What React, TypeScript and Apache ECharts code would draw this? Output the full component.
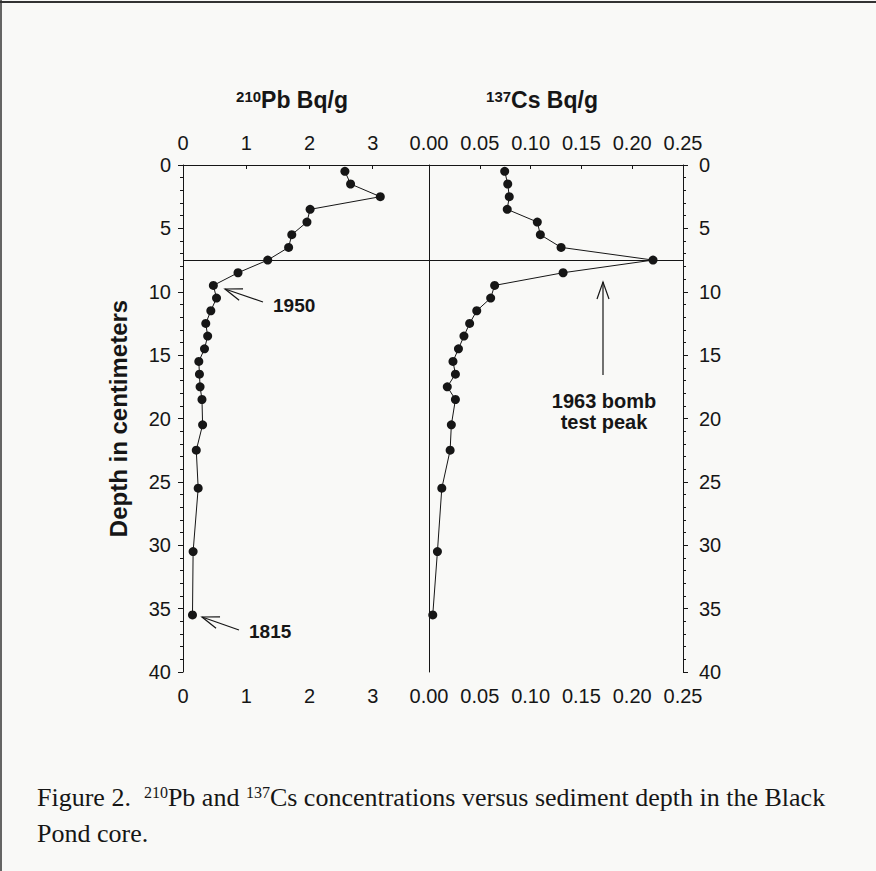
import React, { useEffect, useRef } from "react";
import * as echarts from "echarts";

// ---- data ----
const depthCm = [0.5, 1.5, 2.5, 3.5, 4.5, 5.5, 6.5, 7.5, 8.5, 9.5, 10.5, 11.5, 12.5, 13.5, 14.5, 15.5, 16.5, 17.5, 18.5, 20.5, 22.5, 25.5, 30.5, 35.5];
const pb210 = [2.56, 2.65, 3.12, 2.01, 1.96, 1.72, 1.67, 1.34, 0.87, 0.48, 0.53, 0.44, 0.36, 0.39, 0.34, 0.25, 0.26, 0.27, 0.3, 0.31, 0.21, 0.24, 0.16, 0.15];
const cs137 = [0.0745, 0.0775, 0.079, 0.077, 0.1066, 0.1096, 0.13, 0.2205, 0.132, 0.0646, 0.0607, 0.047, 0.04, 0.0344, 0.029, 0.0236, 0.026, 0.018, 0.026, 0.022, 0.0208, 0.0126, 0.0083, 0.0037];
const peakDepth = 7.5;
const pbTicks = [0, 1, 2, 3];
const csTicks = ["0.00", "0.05", "0.10", "0.15", "0.20", "0.25"];
const depthTicks = [0, 5, 10, 15, 20, 25, 30, 35, 40];

const INK = "#161616";
const SANS = "'Liberation Sans', Arial, sans-serif";
const SERIF = "'Liberation Serif', 'DejaVu Serif', serif";

function arrow(tail: number[], tip: number[]) {
  const dx = tail[0] - tip[0];
  const dy = tail[1] - tip[1];
  const len = Math.hypot(dx, dy);
  const ux = dx / len, uy = dy / len;
  const px = -uy, py = ux;
  const L = 17, W = 6;
  const w1 = [tip[0] + L * ux + W * px, tip[1] + L * uy + W * py];
  const w2 = [tip[0] + L * ux - W * px, tip[1] + L * uy - W * py];
  return [
    { type: "line", shape: { x1: tail[0], y1: tail[1], x2: tip[0], y2: tip[1] }, style: { stroke: INK, lineWidth: 1.2 } },
    { type: "polyline", shape: { points: [w1, tip, w2] }, style: { stroke: INK, lineWidth: 1.2, fill: null } },
  ];
}

export default function App() {
  const ref = useRef<HTMLDivElement>(null);
  useEffect(() => {
    if (!ref.current) return;
    const chart = echarts.init(ref.current, null, { renderer: "svg" });
    const gridTop = 165, gridH = 507;
    const pbLeft = 183, pbW = 246, csLeft = 429, csW = 254;

    const axisLineStyle = { lineStyle: { color: INK, width: 1 } };
    const labelStyle = { color: INK, fontSize: 20, fontFamily: SANS };

    const xBase = (grid: number, pos: "top" | "bottom", max: number, interval: number, fmt: (v: number) => string) => ({
      type: "value",
      gridIndex: grid,
      position: pos,
      min: 0,
      max,
      interval,
      axisLine: { show: true, ...axisLineStyle },
      axisTick: { show: true, length: 4, inside: pos === "top", lineStyle: { color: INK } },
      splitLine: { show: false },
      axisLabel: { ...labelStyle, margin: pos === "top" ? 12 : 14, formatter: fmt, showMaxLabel: true },
    });

    const pbFmt = (v: number) => {
      const r = Math.round(v);
      return Math.abs(v - r) < 1e-6 && pbTicks.includes(r) ? String(r) : "";
    };
    const csFmt = (v: number) => {
      const s = v.toFixed(2);
      return csTicks.includes(s) ? s : "";
    };
    const depthFmt = (v: number) => (depthTicks.includes(Math.round(v)) ? String(Math.round(v)) : "");

    const yBase = (grid: number, pos: "left" | "right", labels: boolean) => ({
      type: "value",
      gridIndex: grid,
      position: pos,
      inverse: true,
      min: 0,
      max: 40,
      interval: 5,
      axisLine: { show: true, onZero: false, ...axisLineStyle },
      axisTick: { show: labels, length: 5, lineStyle: { color: INK } },
      minorTick: { show: labels, splitNumber: 5, length: 3, lineStyle: { color: INK } },
      splitLine: { show: false },
      axisLabel: { show: labels, ...labelStyle, margin: pos === "left" ? 12 : 16, formatter: depthFmt },
    });

    const peakLine = {
      silent: true,
      symbol: "none",
      label: { show: false },
      lineStyle: { color: INK, width: 1.2, type: "solid" },
      data: [{ yAxis: peakDepth }],
    };

    const titleRich = {
      s: { fontSize: 15, fontWeight: "bold", fontFamily: SANS, fill: INK, verticalAlign: "top" },
      m: { fontSize: 23, fontWeight: "bold", fontFamily: SANS, fill: INK },
    };

    const option: any = {
      animation: false,
      backgroundColor: "#f9f9f7",
      grid: [
        { left: pbLeft, top: gridTop, width: pbW, height: gridH },
        { left: csLeft, top: gridTop, width: csW, height: gridH },
      ],
      xAxis: [
        xBase(0, "bottom", 3.89, 1, pbFmt),
        xBase(0, "top", 3.89, 1, pbFmt),
        xBase(1, "bottom", 0.25, 0.05, csFmt),
        xBase(1, "top", 0.25, 0.05, csFmt),
      ],
      yAxis: [
        {
          ...yBase(0, "left", true),
          name: "Depth in centimeters",
          nameLocation: "middle",
          nameRotate: 90,
          nameGap: 53,
          nameTextStyle: { color: INK, fontSize: 24, fontWeight: "bold", fontFamily: SANS },
        },
        yBase(1, "left", false),
        yBase(1, "right", true),
      ],
      series: [
        {
          name: "210Pb",
          type: "line",
          xAxisIndex: 0,
          yAxisIndex: 0,
          data: depthCm.map((d, i) => [pb210[i], d]),
          symbol: "circle",
          symbolSize: 9,
          itemStyle: { color: INK },
          lineStyle: { color: INK, width: 1 },
          markLine: peakLine,
        },
        {
          name: "137Cs",
          type: "line",
          xAxisIndex: 2,
          yAxisIndex: 2,
          data: depthCm.map((d, i) => [cs137[i], d]),
          symbol: "circle",
          symbolSize: 9,
          itemStyle: { color: INK },
          lineStyle: { color: INK, width: 1 },
          markLine: peakLine,
        },
      ],
      graphic: [
        { type: "line", shape: { x1: 0, y1: 2, x2: 876, y2: 2 }, style: { stroke: "#333", lineWidth: 2 } },
        { type: "line", shape: { x1: 1, y1: 0, x2: 1, y2: 871 }, style: { stroke: "#333", lineWidth: 1.5 } },
        {
          type: "text",
          x: 292,
          y: 100,
          style: { text: "{s|210}{m|Pb Bq/g}", align: "center", verticalAlign: "middle", rich: titleRich },
        },
        {
          type: "text",
          x: 542,
          y: 100,
          style: { text: "{s|137}{m|Cs Bq/g}", align: "center", verticalAlign: "middle", rich: titleRich },
        },
        ...arrow([263, 302], [225, 289]),
        { type: "text", x: 273, y: 305, style: { text: "1950", fontSize: 19, fontWeight: "bold", fontFamily: SANS, fill: INK, verticalAlign: "middle" } },
        ...arrow([239, 630], [202, 617]),
        { type: "text", x: 249, y: 631, style: { text: "1815", fontSize: 19, fontWeight: "bold", fontFamily: SANS, fill: INK, verticalAlign: "middle" } },
        ...arrow([603, 375], [603, 282]),
        {
          type: "text",
          x: 604,
          y: 411,
          style: {
            text: "1963 bomb\ntest peak",
            fontSize: 20,
            lineHeight: 21,
            fontWeight: "bold",
            fontFamily: SANS,
            fill: INK,
            align: "center",
            verticalAlign: "middle",
          },
        },
        {
          type: "text",
          x: 37,
          y: 797,
          style: {
            text: "{n|Figure 2.  }{s|210}{n|Pb and }{s|137}{n|Cs concentrations versus sediment depth in the Black}",
            verticalAlign: "middle",
            rich: {
              n: { fontSize: 26, fontFamily: SERIF, fill: INK },
              s: { fontSize: 16, fontFamily: SERIF, fill: INK, verticalAlign: "top" },
            },
          },
        },
        {
          type: "text",
          x: 37,
          y: 833,
          style: { text: "Pond core.", fontSize: 26, fontFamily: SERIF, fill: INK, verticalAlign: "middle" },
        },
      ],
    };
    chart.setOption(option);
    return () => chart.dispose();
  }, []);
  return <div ref={ref} style={{ position: "absolute", left: 0, top: 0, width: 876, height: 871 }} />;
}
